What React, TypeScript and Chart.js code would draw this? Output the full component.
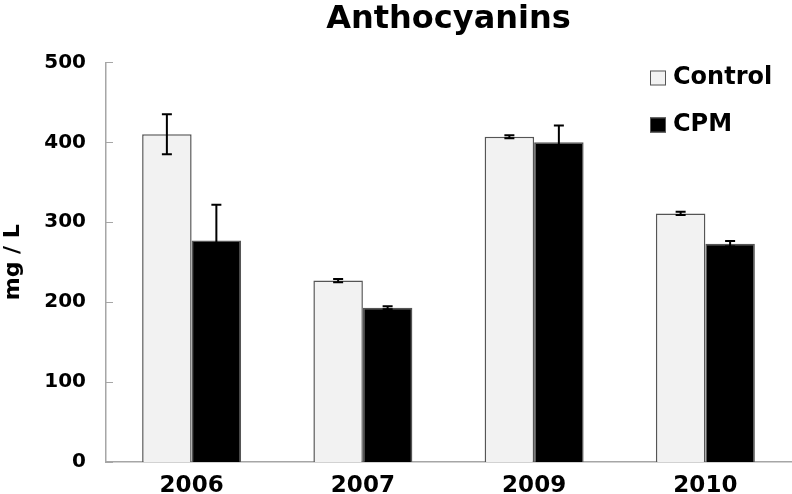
import React, { useEffect, useRef } from "react";
import { Chart, registerables } from "chart.js";

Chart.register(...registerables);

const categories = ["2006", "2007", "2009", "2010"];
const controlValues = [410, 227, 407, 311];
const controlErrors = [25, 2, 2, 2];
const cpmValues = [277, 193, 400, 273];
const cpmErrors = [45, 2, 21, 3.5];
const yTicks = [0, 100, 200, 300, 400, 500];

const FONT = "'DejaVu Sans', Verdana, sans-serif";

const errorBarPlugin = {
  id: "errorBars",
  afterDatasetsDraw(chart: any) {
    const ctx = chart.ctx;
    const y = chart.scales.y;
    chart.data.datasets.forEach((ds: any, i: number) => {
      const meta = chart.getDatasetMeta(i);
      meta.data.forEach((bar: any, j: number) => {
        const v = ds.data[j];
        const e = ds.errors[j];
        const top = y.getPixelForValue(v + e);
        const bot = y.getPixelForValue(v - e);
        const x = bar.x;
        ctx.save();
        ctx.strokeStyle = "#000000";
        ctx.lineWidth = 2;
        ctx.beginPath();
        ctx.moveTo(x, top);
        ctx.lineTo(x, bot);
        ctx.moveTo(x - 5, top);
        ctx.lineTo(x + 5, top);
        ctx.moveTo(x - 5, bot);
        ctx.lineTo(x + 5, bot);
        ctx.stroke();
        ctx.restore();
      });
    });
  },
};

const axisTickPlugin = {
  id: "innerTicks",
  afterDraw(chart: any) {
    const ctx = chart.ctx;
    const y = chart.scales.y;
    const left = chart.chartArea.left;
    ctx.save();
    ctx.strokeStyle = "#a6a6a6";
    ctx.lineWidth = 1;
    y.ticks.forEach((t: any) => {
      const py = Math.round(y.getPixelForValue(t.value)) + 0.5;
      ctx.beginPath();
      ctx.moveTo(left, py);
      ctx.lineTo(left + 7, py);
      ctx.stroke();
    });
    ctx.restore();
  },
};

const legendPlugin = {
  id: "customLegend",
  afterDraw(chart: any) {
    const ctx = chart.ctx;
    const x0 = chart.chartArea.right - 141;
    const rows = [78, 125];
    ctx.save();
    chart.data.datasets.forEach((ds: any, i: number) => {
      const cy = rows[i];
      ctx.fillStyle = ds.backgroundColor;
      ctx.fillRect(x0, cy - 7.5, 16, 15);
      ctx.strokeStyle = "#555555";
      ctx.lineWidth = 1;
      ctx.strokeRect(x0 + 0.5, cy - 7, 15, 14);
      ctx.fillStyle = "#000000";
      ctx.font = `bold 24px ${FONT}`;
      ctx.textBaseline = "middle";
      ctx.textAlign = "left";
      ctx.fillText(ds.label, x0 + 23, cy);
    });
    ctx.restore();
  },
};

export default function App() {
  const ref = useRef<HTMLCanvasElement>(null);
  useEffect(() => {
    if (!ref.current) return;
    const chart = new Chart(ref.current, {
      type: "bar",
      data: {
        labels: categories,
        datasets: [
          {
            label: "Control",
            data: controlValues,
            errors: controlErrors,
            backgroundColor: "#f2f2f2",
            borderColor: "#555555",
            borderWidth: 1.5,
            barPercentage: 1,
            categoryPercentage: 0.578,
          } as any,
          {
            label: "CPM",
            data: cpmValues,
            errors: cpmErrors,
            backgroundColor: "#000000",
            borderColor: "#555555",
            borderWidth: 1.5,
            barPercentage: 1,
            categoryPercentage: 0.578,
          } as any,
        ],
      },
      options: {
        animation: false,
        responsive: false,
        maintainAspectRatio: false,
        layout: { padding: { left: 0, right: 1, top: 0, bottom: 0 } },
        plugins: {
          legend: { display: false },
          tooltip: { enabled: false },
          title: {
            display: true,
            text: "Anthocyanins",
            fullSize: false,
            color: "#000000",
            font: { family: FONT, size: 32, weight: "bold", lineHeight: 1.2 },
            padding: { top: 0, bottom: 24 },
          },
        },
        scales: {
          x: {
            grid: { display: false },
            border: { display: true, color: "#a6a6a6", width: 1.5 },
            ticks: {
              color: "#000000",
              font: { family: FONT, size: 23, weight: "bold" },
              padding: 2,
            },
            afterFit: (s: any) => {
              s.height = 32;
            },
          },
          y: {
            min: 0,
            max: 500,
            afterBuildTicks: (s: any) => {
              s.ticks = yTicks.map((v) => ({ value: v }));
            },
            grid: { display: false },
            border: { display: true, color: "#a6a6a6", width: 1.5 },
            ticks: {
              color: "#000000",
              font: { family: FONT, size: 20, weight: "bold" },
              padding: 12,
            },
            title: {
              display: true,
              text: "mg / L",
              color: "#000000",
              font: { family: FONT, size: 22, weight: "bold" },
              padding: { top: 0, bottom: 0 },
            },
            afterFit: (s: any) => {
              s.width = 106;
            },
          },
        },
      },
      plugins: [errorBarPlugin, axisTickPlugin, legendPlugin],
    });
    return () => chart.destroy();
  }, []);
  return (
    <div style={{ position: "fixed", left: 0, top: 0, width: 792, height: 494, background: "#ffffff" }}>
      <canvas ref={ref} width={792} height={494} style={{ display: "block" }} />
    </div>
  );
}
